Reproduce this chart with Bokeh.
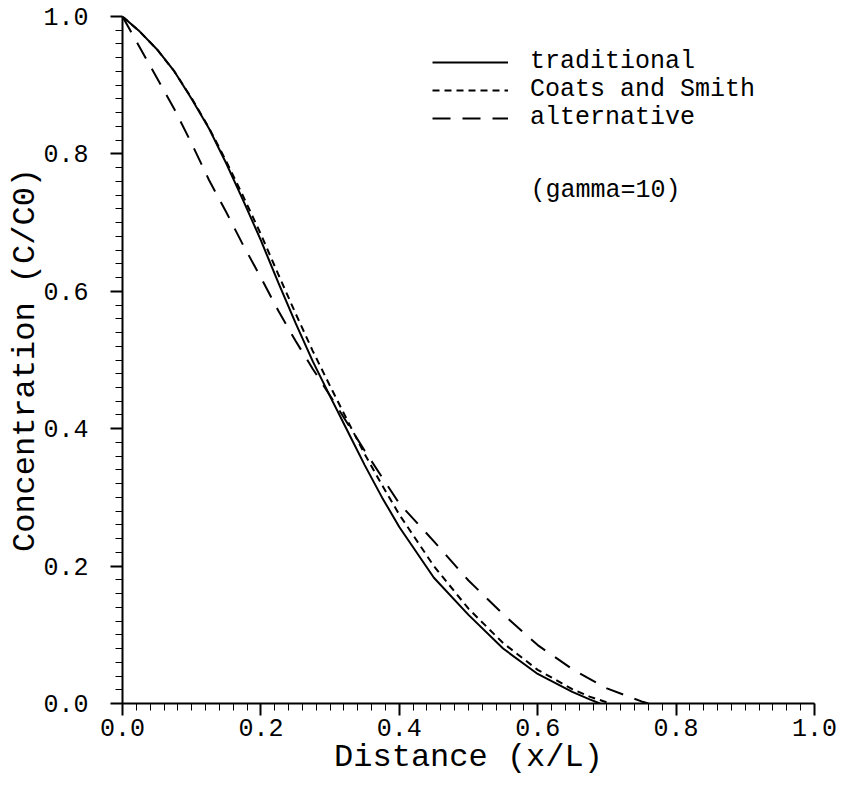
from bokeh.plotting import figure
from bokeh.models import SingleIntervalTicker, PrintfTickFormatter, Legend, LegendItem, Label
from bokeh.embed import file_html
from bokeh.resources import INLINE

# ---- data ----
x_trad = [0, 0.025, 0.05, 0.075, 0.1, 0.125, 0.15, 0.175, 0.2, 0.225, 0.25, 0.275, 0.3,
          0.325, 0.35, 0.375, 0.4, 0.45, 0.5, 0.55, 0.6, 0.65, 0.675, 0.69]
y_trad = [1.0, 0.978, 0.952, 0.92, 0.88, 0.837, 0.786, 0.731, 0.674, 0.613, 0.554, 0.498, 0.447,
          0.397, 0.347, 0.30, 0.257, 0.183, 0.129, 0.08, 0.043, 0.017, 0.006, 0.0]

x_cs = [0, 0.025, 0.05, 0.075, 0.1, 0.125, 0.15, 0.175, 0.2, 0.225, 0.25, 0.275, 0.3,
        0.325, 0.35, 0.375, 0.4, 0.45, 0.5, 0.55, 0.6, 0.65, 0.675, 0.705]
y_cs = [1.0, 0.978, 0.952, 0.92, 0.881, 0.838, 0.789, 0.737, 0.683, 0.625, 0.568, 0.513, 0.462,
        0.412, 0.363, 0.318, 0.275, 0.2, 0.138, 0.088, 0.049, 0.021, 0.01, 0.0]

x_alt = [0, 0.025, 0.05, 0.075, 0.1, 0.125, 0.15, 0.175, 0.2, 0.225, 0.25, 0.275, 0.3,
         0.35, 0.4, 0.45, 0.5, 0.55, 0.6, 0.65, 0.7, 0.75, 0.76]
y_alt = [1.0, 0.955, 0.91, 0.865, 0.815, 0.762, 0.715, 0.666, 0.62, 0.572, 0.528, 0.487, 0.448,
         0.368, 0.291, 0.236, 0.179, 0.13, 0.085, 0.05, 0.022, 0.003, 0.0]

series_names = ["traditional", "Coats and Smith", "alternative"]
note_text = "(gamma=10)"
x_title = "Distance (x/L)"
y_title = "Concentration (C/C0)"

FONT = "Liberation Mono"

p = figure(width=854, height=790, x_range=(0, 1), y_range=(0, 1),
           output_backend="svg", toolbar_location=None,
           min_border_left=122, min_border_right=40, min_border_top=16, min_border_bottom=87)
p.outline_line_color = None
p.xgrid.visible = False
p.ygrid.visible = False
p.background_fill_color = "white"

for ax in (p.xaxis[0], p.yaxis[0]):
    ax.ticker = SingleIntervalTicker(interval=0.2, num_minor_ticks=10)
    ax.formatter = PrintfTickFormatter(format="%.1f")
    ax.axis_line_width = 2
    ax.axis_line_color = "black"
    ax.major_tick_line_width = 2
    ax.major_tick_line_color = "black"
    ax.minor_tick_line_width = 1
    ax.minor_tick_line_color = "black"
    ax.major_tick_in = 0
    ax.major_tick_out = 12
    ax.minor_tick_in = 0
    ax.minor_tick_out = 7
    ax.major_label_text_font = FONT
    ax.major_label_text_font_size = "25px"
    ax.major_label_text_color = "black"
    ax.axis_label_text_font = FONT
    ax.axis_label_text_font_style = "normal"
    ax.axis_label_text_font_size = "32px"
    ax.axis_label_text_color = "black"

p.xaxis.axis_label = x_title
p.yaxis.axis_label = y_title
p.xaxis.major_label_standoff = 3
p.xaxis.axis_label_standoff = 0
p.yaxis.major_label_standoff = 22
p.yaxis.axis_label_standoff = -4

r1 = p.line(x_trad, y_trad, line_color="black", line_width=2)
r2 = p.line(x_cs, y_cs, line_color="black", line_width=2, line_dash="7 5")
r3 = p.line(x_alt, y_alt, line_color="black", line_width=2, line_dash="18 12")

# one legend per row (rows 28 px apart, as in the reference)
legend_rows = [(series_names[0], r1, 627), (series_names[1], r2, 599), (series_names[2], r3, 571)]
for name, rend, ypos in legend_rows:
    lg = Legend(items=[LegendItem(label=name, renderers=[rend])],
                location=(310, ypos), orientation="vertical",
                glyph_width=76, glyph_height=20, label_height=20, spacing=0,
                label_standoff=22, padding=0, margin=0,
                border_line_color=None, background_fill_alpha=0,
                label_text_font=FONT, label_text_font_size="25px", label_text_color="black")
    p.add_layout(lg, "center")

p.add_layout(Label(x=0.5896, y=0.7467, text=note_text, text_font=FONT, text_font_size="25px",
                   text_color="black", text_baseline="alphabetic"))

open("out.html", "w").write(file_html(p, INLINE))
